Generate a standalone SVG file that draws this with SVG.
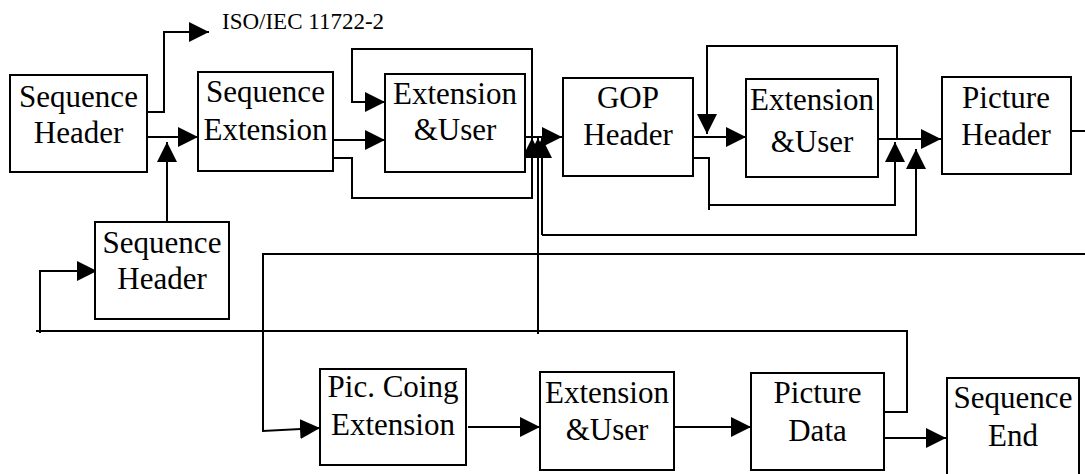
<svg xmlns="http://www.w3.org/2000/svg" width="1085" height="474" viewBox="0 0 1085 474">
  <style>
    .box { fill: #fff; stroke: #000; stroke-width: 2; }
    .lbl { font-family: "Liberation Serif", "Times New Roman", serif; font-size: 31px; fill: #000; text-anchor: middle; }
    .note { font-family: "Liberation Serif", "Times New Roman", serif; font-size: 23px; fill: #000; }
    .wire { fill: none; stroke: #000; stroke-width: 2; }
    .arr { marker-end: url(#head); }
  </style>
  <defs>
    <marker id="head" viewBox="0 0 20 20" markerUnits="userSpaceOnUse" markerWidth="20" markerHeight="20" refX="20" refY="10" orient="auto">
      <path d="M0,0 L20,10 L0,20 Z" fill="#000"/>
    </marker>
  </defs>

  <rect width="1085" height="474" fill="#fff"/>

  <!-- connectors -->
  <g id="connectors">
    <polyline class="wire arr" points="147,112 164,112 164,32 209,32"/>
    <line class="wire arr" x1="147" y1="137" x2="198" y2="137"/>
    <line class="wire arr" x1="167" y1="222" x2="167" y2="142"/>
    <line class="wire arr" x1="333" y1="140" x2="385" y2="140"/>
    <polyline class="wire arr" points="532,137 532,49 352,49 352,102 385,102"/>
    <polyline class="wire arr" points="333,158 352,158 352,198 532,198 532,138"/>
    <line class="wire arr" x1="525" y1="137" x2="562" y2="137"/>
    <polyline class="wire" points="884,412 907,412 907,331 36,331"/>
    <polyline class="wire arr" points="40,333 40,271 97,271"/>
    <line class="wire arr" x1="538" y1="334" x2="538" y2="138"/>
    <line class="wire arr" x1="542" y1="235" x2="542" y2="138"/>
    <polyline class="wire arr" points="542,235 916,235 916,149"/>
    <line class="wire arr" x1="693" y1="137" x2="746" y2="137"/>
    <polyline class="wire arr" points="897,139 897,46 707,46 707,134"/>
    <polyline class="wire" points="693,158 709,158 709,210"/>
    <polyline class="wire arr" points="709,205 895,205 895,142"/>
    <line class="wire arr" x1="878" y1="139" x2="941" y2="139"/>
    <line class="wire" x1="1071" y1="131" x2="1085" y2="131"/>
    <polyline class="wire arr" points="1085,254 263,254 263,431 320,428"/>
    <line class="wire arr" x1="468" y1="427" x2="540" y2="427"/>
    <line class="wire arr" x1="674" y1="427" x2="751" y2="427"/>
    <line class="wire arr" x1="884" y1="438" x2="946" y2="438"/>
  </g>

  <text class="note" x="222" y="29">ISO/IEC 11722-2</text>

  <g id="sequence-header-1">
    <rect class="box" x="10" y="75" width="137" height="97"/>
    <text class="lbl" x="78.5" y="107">Sequence</text>
    <text class="lbl" x="78.5" y="143">Header</text>
  </g>
  <g id="sequence-extension">
    <rect class="box" x="198" y="72" width="135" height="99"/>
    <text class="lbl" x="265.5" y="102">Sequence</text>
    <text class="lbl" x="265.5" y="140">Extension</text>
  </g>
  <g id="extension-user-1">
    <rect class="box" x="385" y="74" width="140" height="98"/>
    <text class="lbl" x="455" y="104">Extension</text>
    <text class="lbl" x="455" y="140">&amp;User</text>
  </g>
  <g id="gop-header">
    <rect class="box" x="563" y="78" width="130" height="98"/>
    <text class="lbl" x="628" y="108">GOP</text>
    <text class="lbl" x="628" y="145">Header</text>
  </g>
  <g id="extension-user-2">
    <rect class="box" x="746" y="79" width="132" height="98"/>
    <text class="lbl" x="812" y="110">Extension</text>
    <text class="lbl" x="812" y="152">&amp;User</text>
  </g>
  <g id="picture-header">
    <rect class="box" x="942" y="77" width="129" height="97"/>
    <text class="lbl" x="1006" y="108">Picture</text>
    <text class="lbl" x="1006" y="145">Header</text>
  </g>
  <g id="sequence-header-2">
    <rect class="box" x="95" y="222" width="134" height="97"/>
    <text class="lbl" x="162" y="253">Sequence</text>
    <text class="lbl" x="162" y="289">Header</text>
  </g>
  <g id="pic-coding-extension">
    <rect class="box" x="320" y="369" width="146" height="96"/>
    <text class="lbl" x="393" y="397">Pic. Coing</text>
    <text class="lbl" x="393" y="435">Extension</text>
  </g>
  <g id="extension-user-3">
    <rect class="box" x="540" y="372" width="134" height="98"/>
    <text class="lbl" x="607" y="403">Extension</text>
    <text class="lbl" x="607" y="440">&amp;User</text>
  </g>
  <g id="picture-data">
    <rect class="box" x="751" y="373" width="133" height="97"/>
    <text class="lbl" x="817.5" y="403">Picture</text>
    <text class="lbl" x="817.5" y="441">Data</text>
  </g>
  <g id="sequence-end">
    <rect class="box" x="947" y="378" width="132" height="100"/>
    <text class="lbl" x="1013" y="408">Sequence</text>
    <text class="lbl" x="1013" y="446">End</text>
  </g>
</svg>
